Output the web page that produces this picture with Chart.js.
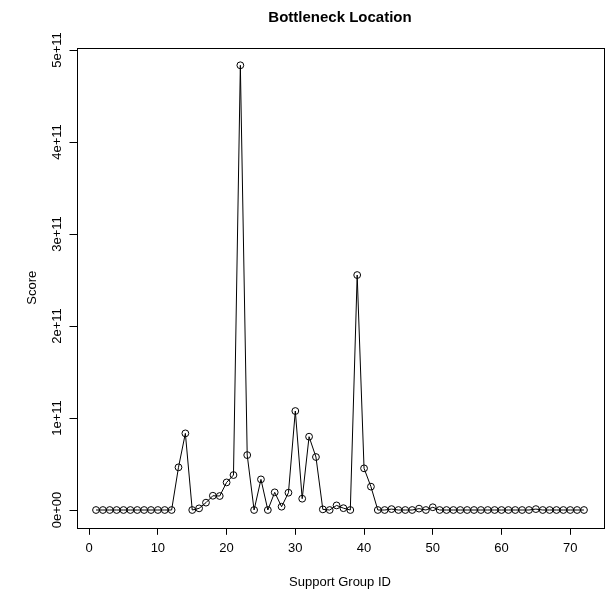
<!DOCTYPE html>
<html>
<head>
<meta charset="utf-8">
<script src="https://cdn.jsdelivr.net/npm/chart.js@4/dist/chart.umd.min.js"></script>
<style>
  html, body { margin: 0; padding: 0; background: #ffffff; }
  #wrap { width: 609px; height: 591px; }
</style>
</head>
<body>
<div id="wrap"><canvas id="c" width="609" height="591"></canvas></div>
<script>
// ---- data ----
const groupIds = [1,2,3,4,5,6,7,8,9,10,11,12,13,14,15,16,17,18,19,20,21,22,23,24,25,26,27,28,29,30,31,32,33,34,35,36,
                  37,38,39,40,41,42,43,44,45,46,47,48,49,50,51,52,53,54,55,56,57,58,59,60,61,62,63,64,65,66,67,68,69,70,71,72];
const scores = [0,0,0,0,0,0,0,0,0,0,0,0,
                4.64e10, 8.33e10, 0, 1.8e9, 8.0e9, 1.55e10, 1.52e10, 3.0e10, 3.8e10, 4.834e11, 5.97e10, 0,
                3.33e10, 0, 1.92e10, 3.6e9, 1.88e10, 1.076e11, 1.23e10, 7.97e10, 5.76e10, 7e8, 0, 5.0e9,
                2.0e9, 0, 2.554e11, 4.53e10, 2.54e10, 0, 0, 1.0e9, 0, 0, 0, 1.5e9, 0, 3.0e9,
                0,0,0,0,0,0,0,0,0,0,0,0,0,0, 1.0e9, 0,0,0,0,0,0,0];
const xTicks = [0,10,20,30,40,50,60,70];
const yTicks = [0,1e11,2e11,3e11,4e11,5e11];
const yTickLabels = ["0e+00","1e+11","2e+11","3e+11","4e+11","5e+11"];
const titleText = "Bottleneck Location";
const xTitle = "Support Group ID";
const yTitle = "Score";

// ---- R-like axis extents (4% extension of data range) ----
function extRange(arr){
  const mn = Math.min(...arr), mx = Math.max(...arr);
  const d = (mx - mn) * 0.04;
  return [mn - d, mx + d];
}
const [xMin, xMax] = extRange(groupIds);
const [yMin, yMax] = extRange(scores);

const FONT = "'Liberation Sans', Arial, Helvetica, sans-serif";

const boxAndLabels = {
  id: 'boxAndLabels',
  afterDraw(chart){
    const {ctx, chartArea: a} = chart;
    ctx.save();
    ctx.strokeStyle = '#000';
    ctx.lineWidth = 1;
    ctx.strokeRect(Math.round(a.left)+0.5, Math.round(a.top)+0.5,
                   Math.round(a.right)-Math.round(a.left), Math.round(a.bottom)-Math.round(a.top));
    // rotated y tick labels (R style, las = 0)
    const ys = chart.scales.y;
    ctx.fillStyle = '#000';
    ctx.font = "13px " + FONT;
    ctx.textAlign = 'center';
    ctx.textBaseline = 'middle';
    yTicks.forEach((v, i) => {
      const py = ys.getPixelForValue(v);
      ctx.save();
      ctx.translate(a.left - 19.5, py);
      ctx.rotate(-Math.PI/2);
      ctx.fillText(yTickLabels[i], 0, 0);
      ctx.restore();
    });
    ctx.restore();
  }
};

function zeroPad(scale){
  scale.paddingLeft = 0; scale.paddingRight = 0; scale.paddingTop = 0; scale.paddingBottom = 0;
}

new Chart(document.getElementById('c'), {
  type: 'line',
  data: {
    datasets: [{
      data: groupIds.map((id, i) => ({x: id, y: scores[i]})),
      borderColor: '#000',
      borderWidth: 1,
      backgroundColor: 'rgba(0,0,0,0)',
      pointRadius: 3.4,
      pointHoverRadius: 3.4,
      pointBorderColor: '#000',
      pointBackgroundColor: 'rgba(0,0,0,0)',
      pointBorderWidth: 1,
      tension: 0,
      fill: false
    }]
  },
  options: {
    responsive: false,
    animation: false,
    devicePixelRatio: 1,
    layout: { padding: { left: 0, right: 5.5, top: 0, bottom: 0 } },
    plugins: {
      legend: { display: false },
      tooltip: { enabled: false },
      title: {
        display: true,
        text: titleText,
        fullSize: false,
        color: '#000',
        font: { family: FONT, size: 15, weight: 'bold' },
        padding: { top: 8.5, bottom: 21 }
      }
    },
    scales: {
      x: {
        type: 'linear',
        min: xMin, max: xMax,
        afterBuildTicks(scale){ scale.ticks = xTicks.map(v => ({value: v})); },
        afterFit(scale){ scale.height = 591 - 527.8; zeroPad(scale); },
        grid: { display: true, drawOnChartArea: false, drawTicks: true, tickLength: 7, color: '#000', lineWidth: 1 },
        border: { display: false },
        ticks: { color: '#000', font: { family: FONT, size: 13 }, padding: 6, maxRotation: 0, autoSkip: false,
                 callback: v => String(v) },
        title: { display: true, text: xTitle, color: '#000', font: { family: FONT, size: 13 }, padding: { top: 0, bottom: 0.5 } }
      },
      y: {
        type: 'linear',
        min: yMin, max: yMax,
        afterBuildTicks(scale){ scale.ticks = yTicks.map(v => ({value: v})); },
        afterFit(scale){ scale.width = 76.5; zeroPad(scale); },
        grid: { display: true, drawOnChartArea: false, drawTicks: true, tickLength: 7, color: '#000', lineWidth: 1 },
        border: { display: false },
        ticks: { display: false },
        title: { display: true, text: yTitle, color: '#000', font: { family: FONT, size: 13 }, padding: { top: 24.2, bottom: 0 } }
      }
    }
  },
  plugins: [boxAndLabels]
});
</script>
</body>
</html>
